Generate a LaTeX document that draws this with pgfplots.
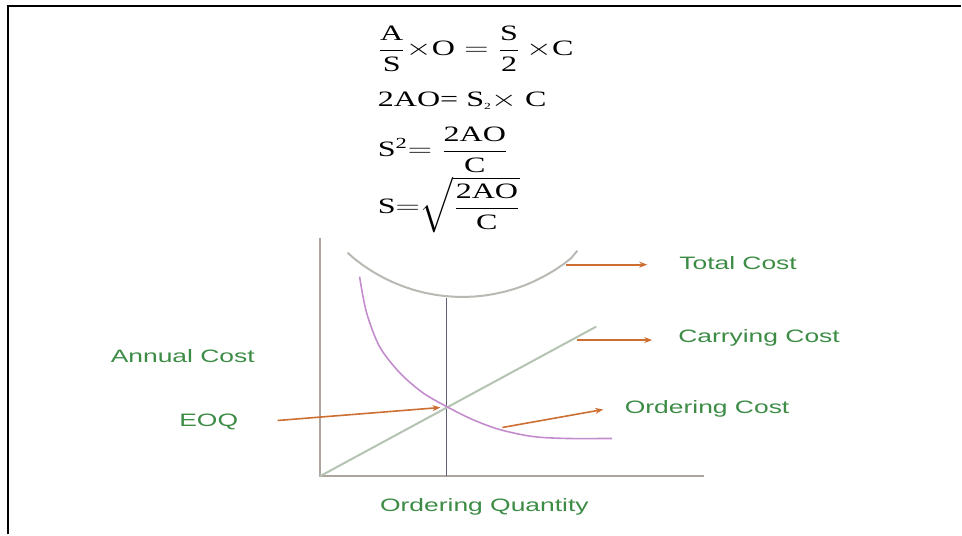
\documentclass[border=0pt]{standalone}
\usepackage{pgfplots}
\pgfplotsset{compat=1.18}
\usepackage{amsmath}
\usepackage{graphicx}
\usepackage{fontspec}
\setmainfont{Liberation Serif}
\newfontfamily\arialf{Liberation Sans}
\usetikzlibrary{arrows.meta}
\definecolor{txtgreen}{RGB}{60,140,70}
\definecolor{arrorange}{RGB}{205,110,50}
\definecolor{axgray}{RGB}{175,165,160}
\definecolor{eoqline}{RGB}{95,95,120}
\definecolor{totgray}{RGB}{185,185,180}
\definecolor{cargray}{RGB}{180,195,178}
\definecolor{ordpurple}{RGB}{195,140,205}
\newcommand{\lab}[1]{\scalebox{1.47}[1]{\arialf\fontsize{13.5}{16}\selectfont\color{txtgreen}#1}}
\newcommand{\frm}[1]{\scalebox{1.46}[1]{\fontsize{16.5}{19}\selectfont #1}}
\begin{document}
\begin{tikzpicture}
\begin{axis}[scale only axis, width=721.5pt, height=401.25pt,
  xmin=0, xmax=962, ymin=0, ymax=535, y dir=reverse,
  hide axis, clip=false]
\addplot[draw=none] coordinates {(0,0) (962,535)};
% border
\addplot[black, line width=1.8pt] coordinates {(8,535) (8,6) (962,6)};
% axes
\addplot[axgray, line width=1.4pt] coordinates {(320,238) (320,477) (705,477)};
% EOQ vertical
\addplot[eoqline, line width=1.4pt] coordinates {(447,298) (447,477)};
% total cost
\addplot[totgray, line width=1.5pt] coordinates {(348,253) (355,259.2) (365,266.7) (375,273.1) (385,278.6) (395,283.3) (405,287.2) (415,290.5) (425,293.1) (435,295.0) (445,296.4) (455,297.1) (465,297.3) (475,296.9) (485,295.9) (495,294.3) (505,292.1) (515,289.3) (525,285.8) (535,281.5) (545,276.5) (555,270.7) (565,263.9) (572,258.4) (578,251)};
% carrying cost
\addplot[cargray, line width=1.5pt] coordinates {(320,477) (597,327)};
% ordering cost
\addplot[ordpurple, line width=1.2pt, smooth] coordinates {(360,277) (367,313) (380,347) (400,373) (423,393) (447,407) (473,420) (500,430) (533,437) (567,439) (613,439)};
% arrows
\addplot[arrorange, line width=1.3pt, -{Stealth[length=6pt,width=4.5pt]}] coordinates {(567,265) (648,265)};
\addplot[arrorange, line width=1.3pt, -{Stealth[length=6pt,width=4.5pt]}] coordinates {(578,340.5) (653,340.5)};
\addplot[arrorange, line width=1.2pt, -{Stealth[length=6pt,width=4.5pt]}] coordinates {(503,428) (604,410)};
\addplot[arrorange, line width=1.2pt, -{Stealth[length=6pt,width=4.5pt]}] coordinates {(278,421) (441,408)};
% labels
\node[anchor=base, inner sep=0pt] at (axis cs:739,270) {\lab{Total Cost}};
\node[anchor=base, inner sep=0pt] at (axis cs:760,343) {\lab{Carrying Cost}};
\node[anchor=base, inner sep=0pt] at (axis cs:708,414) {\lab{Ordering Cost}};
\node[anchor=base, inner sep=0pt] at (axis cs:183,363) {\lab{Annual Cost}};
\node[anchor=base, inner sep=0pt] at (axis cs:209,427) {\lab{EOQ}};
\node[anchor=base, inner sep=0pt] at (axis cs:485,512) {\lab{Ordering Quantity}};
% formulas
\node[anchor=base west, inner sep=0pt] at (axis cs:378,56) {\frm{$\dfrac{\text{A}}{\text{S}}{\times}\text{O} = \dfrac{\text{S}}{\text{2}}\,{\times}\text{C}$}};
\node[anchor=base west, inner sep=0pt] at (axis cs:378,107) {\frm{2AO= S\raisebox{-0.1em}{\scriptsize 2}$\times$ C}};
\node[anchor=base west, inner sep=0pt] at (axis cs:378,157) {\frm{$\text{S}^{\text{2}}{=}\; \dfrac{\text{2AO}}{\text{C}}$}};
\node[anchor=base west, inner sep=0pt] at (axis cs:378,214) {\frm{$\text{S}{=}\sqrt{\dfrac{\text{2AO}}{\text{C}}}$}};
\end{axis}
\end{tikzpicture}
\end{document}
